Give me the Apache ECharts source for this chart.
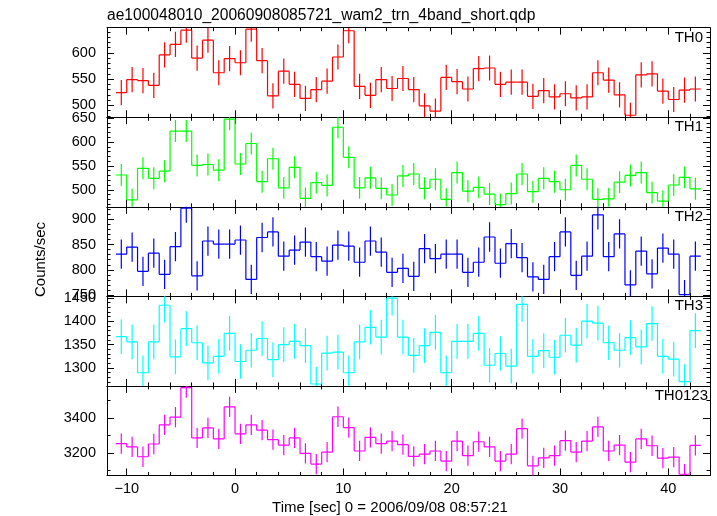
<!DOCTYPE html>
<html><head><meta charset="utf-8">
<script src="https://cdn.jsdelivr.net/npm/echarts@6/dist/echarts.min.js"></script>
<style>html,body{margin:0;padding:0;background:#fff}#c{width:717px;height:516px}</style>
</head><body><div id="c"></div><script>
// ---- data (1-s bins, centers in seconds) ----
const timeCenters = [-10.5,-9.5,-8.5,-7.5,-6.5,-5.5,-4.5,-3.5,-2.5,-1.5,-0.5,0.5,1.5,2.5,3.5,4.5,5.5,6.5,7.5,8.5,9.5,10.5,11.5,12.5,13.5,14.5,15.5,16.5,17.5,18.5,19.5,20.5,21.5,22.5,23.5,24.5,25.5,26.5,27.5,28.5,29.5,30.5,31.5,32.5,33.5,34.5,35.5,36.5,37.5,38.5,39.5,40.5,41.5,42.5];
const th0 = [524,549,547,538,596,616,643,590,624,562,589,581,645,585,518,565,540,513,530,546,592,642,536,519,549,532,551,530,499,489,553,545,531,570,571,540,544,544,517,528,516,522,514,516,562,548,520,481,558,560,527,511,529,531];
const th1 = [531,479,545,524,539,623,623,551,553,541,648,554,597,517,565,504,547,482,515,509,631,568,504,525,503,489,529,533,503,522,480,536,497,505,491,469,492,533,496,524,517,500,551,522,480,481,516,530,536,494,476,510,526,502];
const th2 = [831,845,797,833,791,846,922,788,857,851,851,859,781,864,875,827,839,855,826,817,849,847,815,857,835,795,803,787,842,822,831,831,795,815,865,813,852,824,786,781,826,875,789,827,909,826,871,770,837,792,843,831,751,827];
const th3 = [1367,1356,1290,1356,1434,1324,1384,1354,1311,1325,1374,1314,1338,1363,1318,1350,1357,1348,1266,1332,1334,1290,1356,1387,1366,1449,1366,1327,1348,1376,1290,1357,1357,1374,1306,1331,1304,1436,1325,1337,1323,1370,1349,1400,1396,1354,1338,1365,1345,1395,1325,1319,1271,1380];
const th0123 = [3254,3235,3179,3252,3362,3406,3575,3287,3344,3281,3465,3310,3362,3331,3277,3246,3287,3198,3137,3206,3408,3346,3212,3290,3254,3269,3248,3181,3194,3212,3154,3269,3185,3265,3235,3154,3194,3340,3127,3173,3185,3271,3206,3269,3350,3212,3246,3148,3281,3242,3171,3177,3079,3244];
const errHalf = [24, 23, 29, 37, 58];
const panelNames = ['TH0','TH1','TH2','TH3','TH0123'];
const xTickLabels = [-10, 0, 10, 20, 30, 40];
const yTickLabels = [[500,550,600],[500,550,600,650],[750,800,850,900],[1300,1350,1400,1450],[3200,3400]];
const titleText = 'ae100048010_20060908085721_wam2_trn_4band_short.qdp';
const xTitle = 'Time [sec] 0 = 2006/09/08 08:57:21';
const yTitle = 'Counts/sec';

// ---- layout / style ----
const panelVals = [th0, th1, th2, th3, th0123];
const colors = ['#ff0000','#00ff00','#0000ff','#00ffff','#ff00ff'];
const yMin = [477.2, 464.3, 747.4, 1261.9, 3072];
const yMax = [647.8, 652, 924.8, 1453, 3584.6];
const yMinorStep = [10, 10, 10, 10, 100];
const xMin = -11.82, xMax = 43.85;
const FONT = 'Liberation Sans, Arial, Helvetica, sans-serif';
const gridLeft = 107, gridWidth = 603, top0 = 27.7, panelH = 89.55;

function range(a, b, s){ const r=[]; for(let v=a; v<=b+1e-9; v+=s) r.push(Math.round(v*1000)/1000); return r; }
const xMinorTicks = range(-10, 42, 2);

function makeRender(vals, color, err){
  return function(params, api){
    const i = params.dataIndex;
    const x = timeCenters[i], v = vals[i];
    const a = api.coord([x-0.5, v]), b = api.coord([x+0.5, v]);
    const t = api.coord([x, v+err]), u = api.coord([x, v-err]);
    const st = {stroke: color, lineWidth: 1.2};
    const ch = [
      {type:'line', shape:{x1:a[0],y1:a[1],x2:b[0],y2:b[1]}, style:st},
      {type:'line', shape:{x1:t[0],y1:t[1],x2:u[0],y2:u[1]}, style:st}
    ];
    if (i+1 < vals.length){
      const n = api.coord([x+0.5, vals[i+1]]);
      ch.push({type:'line', shape:{x1:b[0],y1:b[1],x2:n[0],y2:n[1]}, style:st});
    }
    const cs = params.coordSys;
    return {type:'group', children:ch, clipPath:{type:'rect', shape:{x:cs.x, y:cs.y, width:cs.width, height:cs.height}}};
  };
}

const grids=[], xAxes=[], yAxes=[], series=[], graphics=[];
const axisLineOn = {show:true, onZero:false, lineStyle:{color:'#000', width:1}};
const axisLineOff = {show:false, onZero:false};
for (let p=0; p<5; p++){
  const top = top0 + p*panelH;
  grids.push({left:gridLeft, width:gridWidth, top:top, height:panelH});
  const last = p===4;
  const bx = {type:'value', gridIndex:p, min:xMin, max:xMax, splitLine:{show:false}, axisPointer:{show:false}};
  const majX = {show:true, inside:true, length:7, customValues:xTickLabels, lineStyle:{color:'#000'}};
  const minX = {show:true, inside:true, length:3.5, customValues:xMinorTicks, lineStyle:{color:'#000'}};
  xAxes.push(Object.assign({}, bx, {position:'bottom', axisLine:axisLineOn, axisTick:majX,
    axisLabel:{show:last, customValues:xTickLabels, margin:6, fontSize:14.5, color:'#000', fontFamily:FONT,
      formatter:v=> String(v).replace('-', '\u2212')}}));
  xAxes.push(Object.assign({}, bx, {position:'top', axisLine:axisLineOn, axisTick:majX, axisLabel:{show:false}}));
  xAxes.push(Object.assign({}, bx, {position:'bottom', axisLine:axisLineOff, axisTick:minX, axisLabel:{show:false}}));
  xAxes.push(Object.assign({}, bx, {position:'top', axisLine:axisLineOff, axisTick:minX, axisLabel:{show:false}}));

  const by = {type:'value', gridIndex:p, min:yMin[p], max:yMax[p], splitLine:{show:false}, axisPointer:{show:false}};
  const yMinor = range(Math.ceil(yMin[p]/yMinorStep[p])*yMinorStep[p], yMax[p], yMinorStep[p]);
  const majY = {show:true, inside:true, length:7, customValues:yTickLabels[p], lineStyle:{color:'#000'}};
  const minY = {show:true, inside:true, length:3.5, customValues:yMinor, lineStyle:{color:'#000'}};
  yAxes.push(Object.assign({}, by, {position:'left', axisLine:axisLineOn, axisTick:majY,
    axisLabel:{show:true, customValues:yTickLabels[p], margin:11, fontSize:14.5, color:'#000', fontFamily:FONT,
      formatter:v=> String(v)}}));
  yAxes.push(Object.assign({}, by, {position:'right', axisLine:axisLineOn, axisTick:majY, axisLabel:{show:false}}));
  yAxes.push(Object.assign({}, by, {position:'left', axisLine:axisLineOff, axisTick:minY, axisLabel:{show:false}}));
  yAxes.push(Object.assign({}, by, {position:'right', axisLine:axisLineOff, axisTick:minY, axisLabel:{show:false}}));

  const vals = panelVals[p];
  series.push({
    type:'custom', name:panelNames[p], xAxisIndex:4*p, yAxisIndex:4*p,
    data: timeCenters.map((t,i)=>[t, vals[i]]), encode:{x:0, y:1},
    renderItem: makeRender(vals, colors[p], errHalf[p]), silent:true, animation:false
  });

  graphics.push({type:'text', style:{
    x: p===4 ? 708 : 703, y: top+10, text: panelNames[p], textAlign:'right', textVerticalAlign:'middle',
    fontSize:15, fontFamily:FONT, fill:'#000'}});
}
graphics.push({type:'text', style:{x:107, y:15.5, text:titleText, textAlign:'left', textVerticalAlign:'middle', fontSize:15.6, fontFamily:FONT, fill:'#000'}});
graphics.push({type:'text', style:{x:390, y:508, text:xTitle, textAlign:'center', textVerticalAlign:'middle', fontSize:15, fontFamily:FONT, fill:'#000'}});
graphics.push({type:'text', x:40.5, y:259.5, rotation:Math.PI/2, style:{x:0, y:0, text:yTitle, textAlign:'center', textVerticalAlign:'middle', fontSize:15, fontFamily:FONT, fill:'#000'}});

const chart = echarts.init(document.getElementById('c'), null, {renderer:'canvas'});
chart.setOption({
  animation:false, backgroundColor:'#fff',
  grid:grids, xAxis:xAxes, yAxis:yAxes, series:series, graphic:graphics
});
</script></body></html>
